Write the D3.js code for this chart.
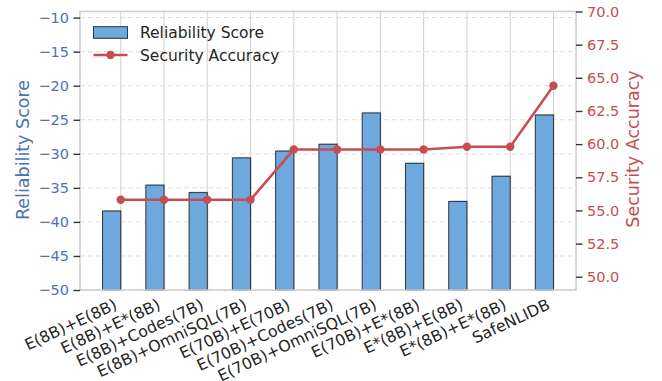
<!DOCTYPE html>
<html>
<head>
<meta charset="utf-8">
<script src="https://cdn.jsdelivr.net/npm/d3@7"></script>
<style>
  html, body { margin: 0; padding: 0; background: #fff; }
  svg { display: block; font-family: "DejaVu Sans", sans-serif; }
</style>
</head>
<body>
<svg id="chart" width="662" height="381"></svg>
<script>
// Configurations compared on the x axis
const categories = [
  "E(8B)+E(8B)", "E(8B)+E*(8B)", "E(8B)+Codes(7B)", "E(8B)+OmniSQL(7B)",
  "E(70B)+E(70B)", "E(70B)+Codes(7B)", "E(70B)+OmniSQL(7B)", "E(70B)+E*(8B)",
  "E*(8B)+E(8B)", "E*(8B)+E*(8B)", "SafeNLIDB"
];
// Bars, left axis
const reliability = [-38.4, -34.6, -35.7, -30.6, -29.6, -28.6, -24.0, -31.4, -37.0, -33.3, -24.3];
// Line, right axis
const securityAcc = [55.8, 55.8, 55.8, 55.8, 59.6, 59.6, 59.6, 59.6, 59.8, 59.8, 64.4];
// Tick values
const leftTicks = [-50, -45, -40, -35, -30, -25, -20, -15, -10];
const rightTicks = [50.0, 52.5, 55.0, 57.5, 60.0, 62.5, 65.0, 67.5, 70.0];

const BLUE = "#4c72b0", RED = "#c44e52", BAR = "#6fa8dc";
const barWidth = 0.42;

const svg = d3.select("#chart");
const L = 80, R = 576, T = 11.5, B = 290;

const x = d3.scaleLinear().domain([-0.941, 10.521]).range([L, R]);
const yL = d3.scaleLinear().domain([-50, -9.1]).range([B, T]);
const yR = d3.scaleLinear().domain([49, 70]).range([B, T]);

// Grid: solid verticals at each category, dashed horizontals on the left ticks
svg.append("g").selectAll("line").data(categories).join("line")
  .attr("x1", (d, i) => x(i)).attr("x2", (d, i) => x(i))
  .attr("y1", T).attr("y2", B)
  .attr("stroke", "#d4d4d4").attr("stroke-width", 1.1);
svg.append("g").selectAll("line").data(leftTicks).join("line")
  .attr("x1", L).attr("x2", R)
  .attr("y1", d => yL(d)).attr("y2", d => yL(d))
  .attr("stroke", "#dedede").attr("stroke-width", 1)
  .attr("stroke-dasharray", "5,3");

// Bars with a soft drop shadow
const bars = svg.append("g");
bars.selectAll("rect.shadow").data(reliability).join("rect")
  .attr("class", "shadow")
  .attr("x", (d, i) => x(i - barWidth) + 1.2)
  .attr("y", d => yL(d) - 1.2)
  .attr("width", (d, i) => x(i) - x(i - barWidth))
  .attr("height", d => B - yL(d))
  .attr("fill", "#999").attr("opacity", 0.35);
bars.selectAll("rect.bar").data(reliability).join("rect")
  .attr("class", "bar")
  .attr("x", (d, i) => x(i - barWidth))
  .attr("y", d => yL(d))
  .attr("width", (d, i) => x(i) - x(i - barWidth))
  .attr("height", d => B - yL(d))
  .attr("fill", BAR).attr("stroke", "#2b3440").attr("stroke-width", 1);

// Security accuracy line
const line = d3.line().x((d, i) => x(i)).y(d => yR(d));
svg.append("path").datum(securityAcc)
  .attr("d", line).attr("fill", "none")
  .attr("stroke", RED).attr("stroke-width", 2.5).attr("stroke-linejoin", "round");
svg.append("g").selectAll("circle").data(securityAcc).join("circle")
  .attr("cx", (d, i) => x(i)).attr("cy", d => yR(d)).attr("r", 4.2)
  .attr("fill", RED);

// Frame
svg.append("rect").attr("x", L).attr("y", T).attr("width", R - L).attr("height", B - T)
  .attr("fill", "none").attr("stroke", "#cccccc").attr("stroke-width", 1.5);

// Left axis
const axL = svg.append("g").attr("transform", `translate(${L},0)`)
  .call(d3.axisLeft(yL).tickValues(leftTicks).tickSize(6.5).tickPadding(4.5)
    .tickFormat(d => d3.format("d")(d).replace("-", "\u2212")));
axL.select(".domain").remove();
axL.selectAll(".tick line").attr("stroke", "#333").attr("stroke-width", 1.4);
axL.selectAll(".tick text").attr("fill", BLUE).attr("font-size", 14.5)
  .attr("font-family", "DejaVu Sans");

// Right axis
const axR = svg.append("g").attr("transform", `translate(${R},0)`)
  .call(d3.axisRight(yR).tickValues(rightTicks).tickSize(6.5).tickPadding(4.5)
    .tickFormat(d3.format(".1f")));
axR.select(".domain").remove();
axR.selectAll(".tick line").attr("stroke", "#333").attr("stroke-width", 1.4);
axR.selectAll(".tick text").attr("fill", RED).attr("font-size", 14.5)
  .attr("font-family", "DejaVu Sans");

// Category labels, rotated
svg.append("g").selectAll("text").data(categories).join("text")
  .attr("transform", (d, i) => `translate(${x(i) - 2.5},${B + 18.5}) rotate(-25)`)
  .attr("text-anchor", "end")
  .attr("font-size", 15.8).attr("fill", "#262626")
  .text(d => d);

// Axis titles
svg.append("text")
  .attr("transform", `translate(${23 + 6},${150}) rotate(-90)`)
  .attr("text-anchor", "middle").attr("font-size", 17.5).attr("fill", BLUE)
  .text("Reliability Score");
svg.append("text")
  .attr("transform", `translate(${633 + 6},${149}) rotate(-90)`)
  .attr("text-anchor", "middle").attr("font-size", 17.5).attr("fill", RED)
  .text("Security Accuracy");

// Legend
const lg = svg.append("g");
lg.append("rect").attr("x", 93.5).attr("y", 26.7).attr("width", 34).attr("height", 11.6)
  .attr("fill", BAR).attr("stroke", "#2b3440").attr("stroke-width", 1);
lg.append("text").attr("x", 140).attr("y", 38.3).attr("font-size", 15.5).attr("fill", "#262626")
  .text("Reliability Score");
lg.append("line").attr("x1", 93.5).attr("x2", 127.5).attr("y1", 55).attr("y2", 55)
  .attr("stroke", RED).attr("stroke-width", 2.5);
lg.append("circle").attr("cx", 110.5).attr("cy", 55).attr("r", 4.2).attr("fill", RED);
lg.append("text").attr("x", 140).attr("y", 60.6).attr("font-size", 15.5).attr("fill", "#262626")
  .text("Security Accuracy");
</script>
</body>
</html>
